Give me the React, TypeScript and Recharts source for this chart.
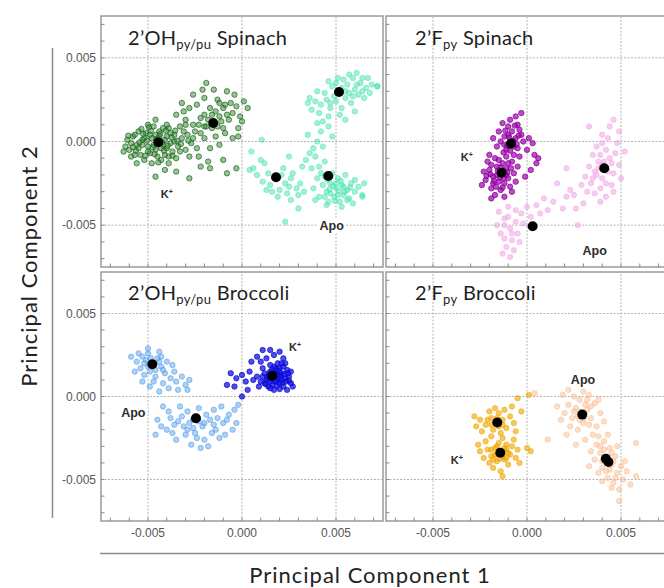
import React from 'react';
import { ScatterChart, Scatter, XAxis, YAxis, ReferenceLine, ReferenceArea } from 'recharts';

type Pt = [number, number];

// all values in units of 1e-3 (PC1, PC2)

// 2'OH py/pu Spinach
const spOhK: Pt[] = [
  [-4.5, 0.0], [-4.8, 0.2], [-4.2, -0.2], [-5.0, -0.3], [-4.0, 0.3], [-5.3, 0.1], [-4.6, -0.5], [-3.8, -0.1],
  [-5.1, 0.5], [-4.4, 0.6], [-3.6, 0.4], [-4.9, -0.7], [-5.6, -0.2], [-5.8, 0.3], [-4.1, -0.8], [-3.4, -0.3],
  [-3.2, 0.2], [-5.4, -0.8], [-4.7, 0.9], [-3.9, 0.8], [-6.0, -0.5], [-5.9, -0.1], [-5.5, 0.6], [-4.3, -1.1],
  [-3.7, -0.6], [-3.0, -0.5], [-2.9, 0.4], [-3.3, 0.9], [-5.2, -1.1], [-6.1, 0.1], [-4.0, 1.0], [-3.5, -1.0],
  [-2.7, -0.1], [-2.5, 0.6], [-4.6, 1.3], [-5.0, 1.0], [-5.7, -0.8], [-6.2, -0.3], [-4.8, -1.3], [-3.9, -1.3],
  [-2.8, -0.9], [-2.4, -0.4], [-4.4, 0.3], [-4.7, -0.2], [-4.1, 0.1], [-5.2, 0.2], [-4.9, 0.4], [-4.3, -0.4],
  [-3.8, 0.5], [-5.5, -0.4], [-4.0, -0.4], [-3.6, 0.0], [-5.0, -0.6], [-4.6, 0.4], [-5.3, -0.2], [-4.2, 0.8],
  [-3.3, -0.6], [-3.1, 0.6], [-5.7, 0.4], [-4.5, -0.9], [-3.9, -0.9], [-5.9, -0.9], [-6.3, -0.6], [-2.6, 0.2],
  [-2.2, 0.5], [-2.0, 0.9], [-3.0, 1.0],
  [-4.55, 0.15], [-4.25, -0.05], [-4.75, -0.35], [-5.05, 0.05], [-4.35, 0.45], [-3.95, -0.25], [-5.25, 0.45],
  [-4.85, 0.65], [-3.75, 0.25], [-4.15, -0.55], [-5.45, -0.05], [-4.65, -0.75], [-3.45, 0.05], [-5.65, -0.55],
  [-3.55, 0.65], [-4.45, -1.25], [-5.15, -0.85], [-6.05, 0.35], [-3.25, -0.15], [-2.85, 0.05], [-4.95, 0.85],
  [-5.35, 0.75], [-3.7, -0.85], [-4.05, 0.65], [-5.8, -0.35],
  [-3.5, 1.6], [-3.0, 1.3], [-2.6, 1.0], [-2.2, 1.4], [-1.9, 0.9], [-1.5, 1.1], [-1.2, 1.5], [-1.0, 0.8],
  [-0.7, 1.3], [-0.5, 1.7], [-0.3, 2.1], [-0.1, 1.5], [0.1, 2.4], [-0.6, 2.3], [-1.0, 2.0], [-1.3, 2.5],
  [-1.7, 2.0], [-2.0, 2.6], [-2.4, 2.2], [-2.8, 2.0], [-3.2, 2.3], [-2.1, 3.1], [-1.5, 3.1], [-0.8, 3.0],
  [-1.9, 3.5], [-0.4, 2.8], [-2.6, 2.8], [-3.1, 1.8], [-1.6, 1.6], [-0.9, 0.5], [-1.4, 0.3], [-2.0, 0.2],
  [-1.7, -0.4], [-1.2, -0.2], [-0.5, 0.2], [-0.2, 0.8], [-2.3, -0.9], [-1.8, -1.2], [-1.0, -1.1],
  [-1.8, 1.3], [-1.3, 0.9], [-1.6, 0.8], [-1.1, 1.2], [-2.0, 1.6], [-0.8, 1.6], [-1.4, 1.8], [-2.3, 1.0],
  [-0.9, 2.2], [-1.2, 2.3],
  [-4.6, -2.1], [-2.8, -2.2], [-1.7, -1.6], [-0.8, -1.9], [-3.5, -1.8], [-4.1, -1.7], [-2.2, -1.5],
  [-0.3, -1.6], [-5.6, -1.3], [-0.2, 0.3], [0.0, 1.2], [0.3, 2.0],
];
const spOhApo: Pt[] = [
  [5.2, 3.0], [4.8, 3.3], [5.6, 3.4], [6.0, 3.1], [6.3, 3.5], [5.9, 3.8], [5.4, 3.7], [4.9, 2.7], [4.5, 2.5],
  [4.2, 2.2], [3.9, 2.4], [4.4, 2.9], [5.0, 2.4], [5.5, 2.6], [6.2, 2.8], [6.6, 3.2], [6.9, 3.4], [7.2, 3.3],
  [6.5, 2.6], [5.8, 2.3], [5.3, 2.0], [4.7, 2.0], [4.1, 1.7], [3.7, 1.9], [3.6, 2.6], [4.0, 3.0], [4.6, 3.6],
  [5.1, 3.8], [5.7, 4.0], [6.1, 4.1], [6.7, 3.8], [6.4, 3.0], [5.9, 2.7], [5.2, 1.6], [4.6, 1.5], [5.5, 1.3],
  [6.0, 1.8], [4.3, 1.2], [3.5, 2.3], [6.8, 2.9],
  [5.3, 3.2], [5.0, 3.5], [5.7, 2.9], [6.1, 3.4], [4.7, 2.3], [6.4, 3.8], [5.5, 3.0],
  [4.6, 0.9], [4.2, 0.6], [4.0, 0.0], [3.8, -0.4], [3.6, -0.7], [3.4, -1.1], [3.2, -1.5], [3.9, -0.9],
  [4.3, -0.3], [4.4, -1.2], [3.7, -1.6], [4.1, -1.5], [4.8, 0.3], [3.5, 0.4], [4.0, 1.1],
  [5.0, -2.8], [4.7, -2.5], [5.3, -2.6], [5.6, -2.9], [4.5, -3.0], [4.9, -3.3], [5.4, -3.2], [5.8, -2.5],
  [6.0, -3.0], [4.3, -2.6], [4.1, -3.3], [4.6, -3.6], [5.2, -3.6], [5.7, -3.4], [6.2, -2.7], [6.4, -3.2],
  [4.0, -2.2], [4.4, -2.1], [5.1, -2.2], [5.5, -2.0], [6.0, -2.3], [3.8, -2.8], [4.8, -1.9], [5.3, -3.9],
  [4.5, -3.8], [5.9, -3.7], [6.5, -2.5], [4.2, -1.9], [3.9, -3.5], [5.0, -2.5], [5.4, -2.7], [4.7, -3.1],
  [5.6, -3.5],
  [4.85, -2.65], [5.15, -2.95], [4.65, -2.85], [5.45, -3.0], [5.25, -2.35], [4.4, -3.3], [5.75, -2.75],
  [4.95, -3.55], [5.1, -3.2], [4.55, -2.3],
  [1.8, -2.2], [1.4, -1.9], [2.3, -2.5], [2.0, -2.9], [1.5, -2.6], [2.6, -2.2], [2.9, -2.8], [2.4, -3.1],
  [1.9, -3.3], [1.1, -2.4], [0.8, -2.0], [0.6, -1.6], [1.2, -1.3], [2.2, -1.6], [2.7, -1.9], [3.1, -2.5],
  [3.0, -3.2], [2.6, -3.5], [1.6, -3.0], [1.0, -1.1], [0.4, -1.7], [2.1, -2.0], [1.3, -2.9], [2.5, -2.7],
  [3.3, -3.0],
  [1.05, 0.1], [0.5, -0.6], [2.3, -4.8], [6.4, -3.3], [7.2, 3.3], [2.5, -0.9], [3.0, -4.0],
];
const spOhMeans: Pt[] = [[-4.45, -0.04], [-1.53, 1.11], [1.81, -2.14], [4.59, -2.06], [5.16, 2.96]];

// 2'F py Spinach
const spFK: Pt[] = [
  [-0.9, -0.1], [-0.6, 0.2], [-1.2, 0.3], [-0.5, -0.4], [-1.1, -0.5], [-0.8, 0.6], [-0.3, 0.4], [-1.4, 0.0],
  [-0.4, -0.9], [-0.7, -0.8], [-1.0, 0.9], [-0.5, 1.0], [-0.2, 0.0], [0.1, 0.2], [-1.5, 0.6], [-0.9, 1.3],
  [-0.6, 1.5], [-0.3, 1.7], [-1.3, 1.1], [-1.6, -0.3], [0.0, -0.5], [0.3, -0.1], [-1.1, -0.9], [-1.8, 0.2],
  [-0.8, -1.2], [-1.0, 0.4], [-0.7, -0.3], [-1.2, -0.2], [-0.4, 0.7],
  [-0.75, 0.05], [-1.05, -0.25], [-0.55, -0.15], [-0.95, 0.25], [-1.25, -0.65], [-0.45, 0.35], [-0.65, 0.95],
  [-1.15, 0.65], [-0.9, -0.55],
  [-1.35, -1.9], [-1.6, -1.5], [-1.1, -1.6], [-1.8, -2.1], [-1.5, -2.4], [-1.0, -2.2], [-2.0, -1.7],
  [-2.2, -2.3], [-1.9, -2.8], [-1.4, -2.9], [-0.9, -2.7], [-0.7, -1.9], [-1.3, -1.3], [-2.1, -1.2],
  [-1.7, -1.0], [-2.3, -1.8], [-1.2, -3.3], [-1.7, -3.2], [-0.8, -3.0], [-0.6, -2.4], [-2.4, -2.6],
  [-1.0, -1.3], [-1.9, -3.4], [-0.5, -1.5], [-2.0, -0.8], [-1.6, -2.0], [-1.2, -2.5], [-1.5, -1.1],
  [-1.8, -2.5], [-1.1, -2.0],
  [-1.25, -1.75], [-1.55, -1.75], [-1.45, -2.15], [-1.05, -1.85], [-1.75, -2.35], [-1.25, -2.2],
  [-0.85, -1.6], [-1.65, -2.7], [-1.95, -1.95], [-1.4, -1.55], [-2.15, -2.05], [-1.3, -2.75], [-1.9, -1.4],
  [0.5, -1.3], [0.4, -0.8], [0.2, -1.7], [-0.1, -2.1], [0.6, -1.0],
];
const spFApo: Pt[] = [
  [4.1, -1.6], [3.8, -1.2], [4.4, -1.0], [3.6, -1.8], [4.0, -2.2], [4.6, -1.9], [3.4, -2.5], [3.9, -2.8],
  [4.5, -2.6], [4.2, -0.5], [3.7, -0.3], [4.7, -0.7], [4.9, -1.4], [3.3, -1.5], [3.5, -0.8], [4.3, 0.2],
  [4.8, -0.1], [4.0, 0.4], [5.0, -2.2], [3.1, -2.1], [3.6, -3.1], [4.2, -3.3], [4.6, -3.0], [3.9, -3.6],
  [4.4, 0.9], [4.9, 0.6], [5.2, -0.6], [3.2, -3.0], [4.1, -1.2], [3.7, -2.0], [4.6, 1.3],
  [4.0, -1.4], [4.3, -1.8], [3.8, -1.6], [4.2, -2.5], [3.9, -0.8], [4.5, -1.3], [3.5, -2.2], [4.0, -0.1],
  [2.9, -2.6], [2.5, -3.2], [2.1, -3.3], [1.6, -2.5], [1.4, -3.6], [2.6, -4.0], [2.7, -5.0], [1.1, -4.1],
  [0.7, -4.3], [2.3, -2.9], [1.9, -4.0], [3.0, -3.7], [0.5, -3.8], [0.9, -3.4], [3.3, 0.9], [2.1, -1.6],
  [-0.9, -5.2], [-1.2, -4.6], [-0.6, -4.8], [-1.4, -5.5], [-0.8, -5.9], [-1.1, -6.3], [-0.5, -5.5],
  [-1.5, -4.2], [-0.3, -4.3], [-1.0, -3.9], [-1.3, -6.7], [-0.7, -6.5], [-0.4, -6.0], [-1.6, -5.0],
  [-0.2, -4.9], [0.0, -3.9], [-1.2, -5.0], [-0.6, -4.1], [-0.9, -6.9], [0.2, -4.5],
  [-1.0, -4.5], [-0.8, -5.5], [-1.2, -5.8],
];
const spFMeans: Pt[] = [[-0.85, -0.12], [-1.35, -1.87], [4.11, -1.6], [0.3, -5.06]];

// 2'OH py/pu Broccoli
const brOhK: Pt[] = [
  [1.7, 1.3], [1.9, 1.1], [1.5, 1.5], [2.1, 1.4], [1.3, 1.0], [2.0, 0.8], [1.6, 0.7], [2.3, 1.1], [1.8, 1.7],
  [1.2, 1.4], [2.4, 1.6], [1.4, 0.6], [2.2, 0.6], [2.5, 1.2], [1.0, 0.9], [1.1, 1.7], [1.9, 2.0], [2.3, 2.0],
  [1.5, 1.9], [2.6, 0.8], [0.8, 1.2], [1.7, 0.4], [2.0, 1.7], [1.6, 1.1], [1.2, 0.8], [2.4, 0.4], [1.8, 0.9],
  [2.1, 1.0], [1.4, 1.2], [2.6, 1.5], [0.9, 0.6], [1.0, 2.1], [2.2, 2.3], [1.7, 2.5], [1.3, 2.3],
  [1.8, 1.4], [2.0, 1.2], [1.5, 0.9], [2.2, 1.8], [1.1, 1.2],
  [1.65, 1.2], [1.85, 1.35], [1.55, 1.05], [2.05, 1.25], [1.75, 0.95], [1.45, 1.35], [1.95, 1.55],
  [2.25, 1.35], [1.35, 1.15], [2.15, 0.85], [1.6, 1.6], [2.35, 0.9], [1.25, 0.75], [1.85, 0.65],
  [2.45, 1.4], [1.7, 1.8], [2.1, 2.0], [1.5, 0.5], [2.0, 0.45], [2.5, 0.95],
  [0.6, 1.0], [0.4, 1.5], [0.2, 0.9], [0.0, 1.3], [-0.3, 1.1], [-0.6, 1.4], [-0.8, 0.7], [0.3, 0.4],
  [0.5, 2.1], [0.8, 2.4], [1.1, 2.8], [1.5, 2.8], [0.0, 0.0], [-0.4, 0.6], [2.7, 0.6], [2.0, 2.7],
];
const brOhApo: Pt[] = [
  [-4.8, 1.9], [-5.1, 2.2], [-4.5, 2.3], [-5.4, 1.7], [-4.9, 1.5], [-4.3, 1.8], [-5.6, 2.1], [-5.2, 1.3],
  [-4.6, 1.2], [-4.1, 1.4], [-5.0, 2.6], [-4.4, 2.7], [-5.7, 1.5], [-5.9, 2.4], [-4.0, 2.1], [-4.7, 0.9],
  [-5.3, 0.9], [-3.8, 1.1], [-3.6, 1.5], [-4.2, 0.8], [-5.5, 2.6], [-4.9, 0.6], [-3.5, 0.9], [-3.2, 1.2],
  [-3.0, 0.7], [-2.8, 1.0], [-3.4, 0.4], [-4.4, 0.3], [-3.9, 0.5], [-2.9, 0.4], [-5.0, 2.9], [-4.3, 2.4],
  [-3.7, 1.9],
  [-4.7, 2.0], [-5.0, 1.8], [-4.6, 1.6], [-5.2, 2.0], [-4.4, 2.1], [-4.85, 2.3], [-5.3, 2.4], [-4.2, 1.6],
  [-2.45, -1.3], [-2.8, -1.6], [-2.1, -1.8], [-3.2, -1.2], [-1.7, -1.4], [-3.6, -1.7], [-2.5, -2.2],
  [-1.4, -2.0], [-3.0, -2.3], [-3.9, -0.9], [-4.2, -0.6], [-4.5, -1.4], [-3.5, -2.6], [-2.0, -2.6],
  [-1.0, -1.6], [-0.7, -1.1], [-0.4, -0.8], [-0.3, -1.6], [-1.2, -2.5], [-2.7, -2.9], [-3.3, -0.6],
  [-2.3, -0.7], [-1.5, -0.8], [-0.9, -2.3], [-4.0, -2.0], [-4.6, -2.3], [-1.8, -3.0], [-2.2, -3.1],
  [-0.5, -2.0], [-3.8, -1.3], [-2.9, -0.9], [-1.9, -1.1], [-0.2, -0.5], [-1.1, -0.6], [-4.3, -1.8],
  [-3.1, -1.8], [-1.6, -2.2], [-2.6, -1.9],
  [-2.3, -1.5], [-2.6, -1.4], [-2.0, -1.6], [-3.4, -1.5], [-1.5, -1.7], [-2.9, -2.0], [-3.7, -2.2],
  [-1.3, -1.3], [-0.8, -1.4], [-2.4, -2.5],
];
const brOhMeans: Pt[] = [[-4.77, 1.94], [-2.45, -1.31], [1.61, 1.25]];

// 2'F py Broccoli
const brFK: Pt[] = [
  [-1.6, -1.6], [-1.9, -1.3], [-1.3, -1.4], [-2.2, -1.7], [-1.8, -2.0], [-1.1, -1.9], [-2.5, -1.4],
  [-1.5, -1.0], [-2.0, -0.9], [-0.9, -1.2], [-2.7, -1.8], [-1.4, -2.2], [-0.7, -1.6], [-1.7, -0.7],
  [-2.4, -2.1], [-1.2, -0.8], [-0.6, -2.1], [-2.8, -1.2], [-0.8, -0.6],
  [-1.7, -1.5], [-1.5, -1.8], [-1.9, -1.7], [-1.3, -1.7], [-2.1, -1.4], [-1.6, -1.3],
  [-1.4, -3.4], [-1.7, -3.1], [-1.1, -3.2], [-1.9, -3.6], [-1.2, -3.8], [-1.6, -3.9], [-0.9, -3.5],
  [-2.1, -3.2], [-0.8, -3.0], [-1.5, -2.8], [-2.3, -3.7], [-1.0, -4.1], [-1.8, -4.3], [-0.6, -3.7],
  [-2.2, -2.7], [-1.3, -2.5], [-0.7, -2.6], [-2.5, -3.3], [-1.4, -4.5], [-0.5, -3.2], [-2.0, -4.0],
  [-1.9, -2.4], [-1.1, -2.9], [-1.6, -3.5], [-1.3, -4.8], [-2.6, -2.9], [-0.4, -4.0],
  [-1.5, -3.3], [-1.3, -3.6], [-1.7, -3.5], [-1.2, -3.1], [-1.6, -3.0], [-1.45, -3.75], [-1.9, -3.2],
  [-1.0, -3.4], [-1.8, -3.8], [-1.1, -3.7],
  [0.2, -3.3], [0.0, -3.1], [0.1, 0.1], [-0.3, -0.9], [-0.5, -0.1],
];
const brFApo: Pt[] = [
  [2.9, -1.1], [2.6, -0.7], [3.2, -0.8], [2.4, -1.3], [3.0, -1.6], [2.7, -2.0], [3.4, -1.3], [2.2, -0.5],
  [2.0, -1.0], [3.6, -0.4], [2.8, -0.2], [3.3, 0.1], [3.0, 0.3], [2.5, 0.0], [3.7, -1.8], [3.5, -2.3],
  [2.3, -1.8], [1.8, -1.4], [3.9, -1.0], [2.1, -2.3], [3.1, -2.6], [1.6, -0.6], [3.8, -0.2], [2.6, -2.9],
  [4.1, -1.5], [1.9, 0.1], [3.2, -0.2], [2.8, -1.4], [3.4, -0.6],
  [2.8, -0.9], [3.0, -1.3], [2.7, -1.2], [3.1, -0.5], [2.5, -0.9], [3.3, -1.7],
  [4.2, -3.8], [3.9, -3.4], [4.5, -4.1], [3.7, -2.9], [4.0, -4.3], [4.7, -3.6], [4.4, -3.1], [4.8, -4.6],
  [4.3, -4.9], [3.6, -3.8], [4.1, -2.7], [5.0, -4.2], [4.6, -5.2], [5.1, -5.0], [4.9, -5.6], [4.5, -5.5],
  [3.8, -4.6], [5.3, -4.5], [5.2, -3.9], [4.0, -5.1], [3.4, -3.3], [5.5, -5.3], [4.3, -2.3], [3.8, -2.4],
  [4.8, -3.0], [5.8, -4.8], [3.3, -4.2], [4.4, -4.4], [4.7, -4.9], [4.1, -3.2],
  [4.3, -3.6], [4.0, -3.9], [4.4, -4.1], [4.6, -3.9], [4.2, -4.5], [3.9, -3.0], [4.5, -3.4],
  [1.1, -2.6], [0.4, 0.2], [5.8, -2.8], [4.9, -6.3], [2.2, 0.4],
];
const brFMeans: Pt[] = [[-1.58, -1.57], [-1.42, -3.39], [2.94, -1.09], [4.19, -3.75], [4.33, -3.95]];

const TICKS = [-7, -6, -5, -4, -3, -2, -1, 0, 1, 2, 3, 4, 5, 6, 7];
const GRID = [-5, 0, 5];
const fmt = (v: number) => (v / 1000).toFixed(3);

const toRows = (pts: Pt[]) => pts.map(([x, y]) => ({ x, y }));

type Cloud = { pts: Pt[]; fill: string; stroke: string; fo: number; so: number };
type Lbl = { x: number; y: number; text: string };

const dot = (c: Cloud) => (p: any) => (
  <circle cx={p.cx} cy={p.cy} r={2.7} fill={c.fill} fillOpacity={c.fo} stroke={c.stroke} strokeOpacity={c.so} strokeWidth={0.8} />
);

function LabelShape(p: any) {
  const t = p.payload?.text ?? p.text;
  const w = t === 'Apo' ? 28 : 16;
  return (
    <g>
      <rect x={p.cx - w / 2} y={p.cy - 8} width={w} height={15} fill="#fff" />
      {t === 'K+' ? (
        <text x={p.cx - 6} y={p.cy + 4} fontFamily="Liberation Sans, Arial" fontWeight="bold" fontSize={11} fill="#2b2b2b">
          K<tspan dy={-4} fontSize={7}>+</tspan>
        </text>
      ) : (
        <text x={p.cx} y={p.cy + 4.5} textAnchor="middle" fontFamily="Liberation Sans, Arial" fontWeight="bold" fontSize={12.5} fill="#2b2b2b">
          {t}
        </text>
      )}
    </g>
  );
}

function Panel(props: {
  left: number; top: number; mTop: number; mBottom: number; mLeft: number; width: number;
  clouds: Cloud[]; means: Pt[]; labels: Lbl[]; xLabels: boolean; yLabels: boolean;
}) {
  const { left, top, mTop, mBottom, mLeft, width, clouds, means, labels, xLabels, yLabels } = props;
  // axes take 1px each, so the plot box lands where mLeft / mBottom say
  return (
    <div style={{ position: 'absolute', left, top }}>
      <ScatterChart width={width} height={280} margin={{ top: mTop, bottom: mBottom - 1, left: mLeft - 1, right: width - mLeft - 282 }}>
        <XAxis
          type="number" dataKey="x" domain={[-7.5, 7.5]} ticks={TICKS} interval={0} height={1}
          tickSize={0} tickMargin={0} axisLine={false} tickLine={false} allowDataOverflow
          tick={(t: any) => (
            <g>
              <line x1={t.x} x2={t.x} y1={t.y} y2={t.y - 3.5} stroke="#8a8a8a" />
              {xLabels && t.payload.value % 5 === 0 && (
                <text x={t.x} y={t.y + 16} textAnchor="middle" fontFamily="Liberation Sans, Arial" fontSize={12} fill="#555">
                  {fmt(t.payload.value)}
                </text>
              )}
            </g>
          )}
        />
        <YAxis
          type="number" dataKey="y" domain={[-7.5, 7.5]} ticks={TICKS} interval={0} width={1}
          tickSize={0} tickMargin={0} axisLine={false} tickLine={false} allowDataOverflow
          tick={(t: any) => (
            <g>
              <line x1={t.x} x2={t.x + 3.5} y1={t.y} y2={t.y} stroke="#8a8a8a" />
              {yLabels && t.payload.value % 5 === 0 && (
                <text x={t.x - 5} y={t.y + 4} textAnchor="end" fontFamily="Liberation Sans, Arial" fontSize={12} fill="#555">
                  {fmt(t.payload.value)}
                </text>
              )}
            </g>
          )}
        />
        {GRID.map((g) => (
          <ReferenceLine key={'vx' + g} x={g} stroke="#b4b4b4" strokeDasharray="2 1.5" />
        ))}
        {GRID.map((g) => (
          <ReferenceLine key={'hy' + g} y={g} stroke="#b4b4b4" strokeDasharray="2 1.5" />
        ))}
        <Scatter data={labels} shape={LabelShape} isAnimationActive={false} />
        {clouds.map((c, i) => (
          <Scatter key={i} data={toRows(c.pts)} shape={dot(c)} isAnimationActive={false} />
        ))}
        <Scatter
          data={toRows(means)}
          shape={(p: any) => <circle cx={p.cx} cy={p.cy} r={5} fill="#000" />}
          isAnimationActive={false}
        />
        <ReferenceArea x1={-7.5} x2={7.5} y1={-7.5} y2={7.5} fill="none" fillOpacity={0} stroke="#9a9a9a" strokeWidth={1.5} />
      </ScatterChart>
    </div>
  );
}

const green: Cloud = { pts: spOhK, fill: '#2c8a2c', stroke: '#1a5e1a', fo: 0.5, so: 0.85 };
const teal: Cloud = { pts: spOhApo, fill: '#45e3ab', stroke: '#45e3ab', fo: 0.5, so: 0.6 };
const magenta: Cloud = { pts: spFK, fill: '#a300b3', stroke: '#84008f', fo: 0.7, so: 0.9 };
const pink: Cloud = { pts: spFApo, fill: '#f2a2e4', stroke: '#f2a2e4', fo: 0.55, so: 0.6 };
const blue: Cloud = { pts: brOhK, fill: '#1010ea', stroke: '#0808c8', fo: 0.75, so: 0.85 };
const lightBlue: Cloud = { pts: brOhApo, fill: '#5aa6f2', stroke: '#4a92e6', fo: 0.5, so: 0.65 };
const orange: Cloud = { pts: brFK, fill: '#f2aa05', stroke: '#eba000', fo: 0.65, so: 0.65 };
const peach: Cloud = { pts: brFApo, fill: '#fbbd90', stroke: '#f8b080', fo: 0.5, so: 0.55 };

const FONT = 'Lato, "Open Sans", sans-serif';

function Title({ x, y, head, sub, tail }: { x: number; y: number; head: string; sub: string; tail: string }) {
  return (
    <text x={x} y={y} fontFamily={FONT} fontSize={20} letterSpacing={0.3} fill="#1e1e1e">
      {head}
      <tspan dy={4} fontSize={13}>{sub}</tspan>
      <tspan dy={-4}>{tail}</tspan>
    </text>
  );
}

export default function App() {
  return (
    <div style={{ position: 'absolute', left: 0, top: 0, width: 664, height: 588, overflow: 'hidden', background: '#fff' }}>
      <Panel left={0} top={0} mTop={16} mBottom={13} mLeft={101} width={390} clouds={[green, teal]} means={spOhMeans}
        labels={[{ x: -4.0, y: -3.15, text: 'K+' }, { x: 4.77, y: -5.0, text: 'Apo' }]} xLabels={false} yLabels />
      <Panel left={380} top={0} mTop={16} mBottom={13} mLeft={6} width={300} clouds={[pink, magenta]} means={spFMeans}
        labels={[{ x: -3.2, y: -0.9, text: 'K+' }, { x: 3.6, y: -6.5, text: 'Apo' }]} xLabels={false} yLabels={false} />
      <Panel left={0} top={268} mTop={4} mBottom={27} mLeft={101} width={390} clouds={[lightBlue, blue]} means={brOhMeans}
        labels={[{ x: 2.82, y: 3.0, text: 'K+' }, { x: -5.78, y: -0.97, text: 'Apo' }]} xLabels yLabels />
      <Panel left={380} top={268} mTop={4} mBottom={27} mLeft={6} width={300} clouds={[peach, orange]} means={brFMeans}
        labels={[{ x: -3.74, y: -3.85, text: 'K+' }, { x: 2.98, y: 1.0, text: 'Apo' }]} xLabels yLabels={false} />
      <svg width={664} height={588} style={{ position: 'absolute', left: 0, top: 0, pointerEvents: 'none' }}>
        <Title x={128} y={45} head="2’OH" sub="py/pu" tail=" Spinach" />
        <Title x={415} y={45} head="2’F" sub="py" tail=" Spinach" />
        <Title x={128} y={300} head="2’OH" sub="py/pu" tail=" Broccoli" />
        <Title x={415} y={300} head="2’F" sub="py" tail=" Broccoli" />
        <line x1={52.5} x2={52.5} y1={48} y2={518} stroke="#8c8c8c" strokeWidth={1.5} />
        <line x1={100} x2={664} y1={553.5} y2={553.5} stroke="#8c8c8c" strokeWidth={1.5} />
        <text x={370} y={583} textAnchor="middle" fontFamily={FONT} fontSize={22} letterSpacing={1} fill="#222">
          Principal Component 1
        </text>
        <text transform="translate(37,266) rotate(-90)" textAnchor="middle" fontFamily={FONT} fontSize={22} letterSpacing={1} fill="#222">
          Principal Component 2
        </text>
      </svg>
    </div>
  );
}
